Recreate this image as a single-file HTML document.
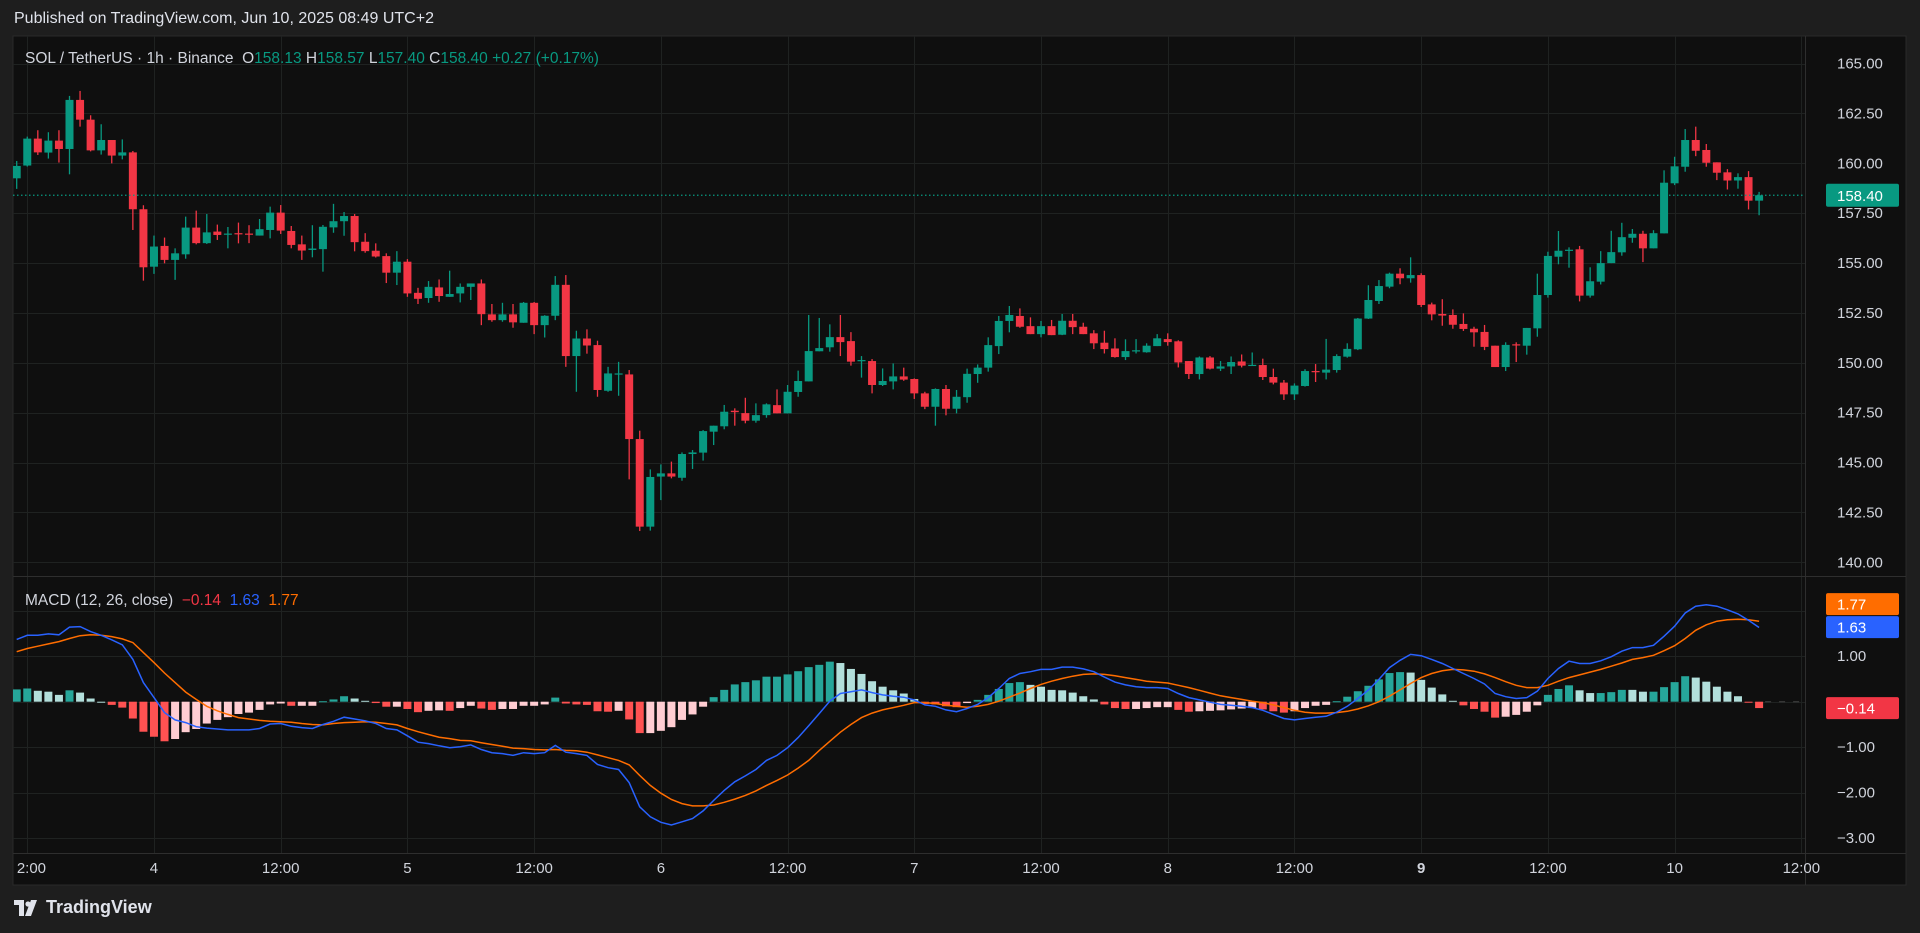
<!DOCTYPE html>
<html><head><meta charset="utf-8"><title>SOL/USDT 1h chart</title>
<style>
html,body{margin:0;padding:0;background:#1e1e1e;width:1920px;height:933px;overflow:hidden;font-family:"Liberation Sans",sans-serif;}
#hdr{position:absolute;left:14px;top:10px;color:#e0e3eb;font-size:16px;}
#ftr{position:absolute;left:14px;top:897px;color:#e0e3eb;font-size:18px;font-weight:bold;display:flex;align-items:center;gap:6px;}
svg{position:absolute;left:0;top:0;}
</style></head><body>
<div id="hdr">Published on TradingView.com, Jun 10, 2025 08:49 UTC+2</div>
<div id="ftr"><svg width="26" height="16" viewBox="0 0 26 16" style="position:static"><path d="M0 0h10v16H5V5H0z M11 16l6-16h6l-6 16z" fill="#e0e3eb"/><circle cx="14" cy="4" r="2.6" fill="#e0e3eb"/></svg><span>TradingView</span></div>
<svg id="chart" width="1920" height="933"></svg>
<script>
const opens=[159.25,159.89,161.24,160.54,161.14,160.72,163.18,162.19,160.65,161.17,160.39,160.55,157.70,154.82,155.86,155.16,155.44,156.78,156.00,156.58,156.45,156.50,156.48,156.38,156.66,157.53,156.61,155.94,155.66,155.70,156.79,157.10,157.36,156.07,155.62,155.35,154.52,155.07,153.51,153.25,153.78,153.31,153.48,153.81,153.98,152.43,152.14,152.43,152.01,153.01,151.89,152.36,153.91,150.34,151.22,150.89,148.60,149.45,149.42,146.18,141.79,144.30,144.46,144.24,145.43,145.50,146.55,146.82,147.60,147.48,147.10,147.38,147.88,147.47,148.54,149.07,150.58,150.78,151.29,151.09,150.12,150.09,148.89,149.07,149.32,149.19,148.47,147.80,148.69,147.70,148.28,149.44,149.76,150.84,152.10,152.35,151.84,151.44,151.84,151.41,152.11,151.81,151.48,151.01,150.72,150.29,150.60,150.53,150.84,151.19,151.08,150.09,149.44,150.27,149.71,149.82,150.07,149.87,149.89,149.29,149.01,148.42,148.84,149.59,149.51,149.64,150.31,150.68,152.22,153.10,153.82,154.47,154.24,154.40,152.93,152.45,152.40,151.95,151.71,151.55,150.86,149.79,150.93,150.86,151.73,153.40,155.32,155.62,155.69,153.37,154.07,155.00,155.54,156.27,156.47,155.74,156.49,159.00,159.83,161.17,160.67,160.05,159.55,159.14,159.31,158.13];
const highs=[160.12,161.34,161.66,161.56,161.66,163.38,163.63,162.41,161.96,161.17,161.20,160.62,157.90,156.38,156.28,155.74,157.33,157.63,157.46,156.93,156.81,157.03,156.90,157.21,157.83,157.91,156.86,156.38,156.90,156.91,157.97,157.56,157.46,156.50,155.99,155.49,155.60,155.20,153.76,154.10,154.18,154.62,153.98,153.98,154.18,152.95,153.01,152.95,153.05,153.05,152.39,154.35,154.40,151.61,151.68,151.11,149.80,150.05,149.64,146.60,144.66,144.91,145.05,145.51,145.63,146.63,146.85,147.89,147.72,148.25,147.97,147.97,148.67,148.89,149.61,152.40,152.25,151.93,152.40,151.54,150.34,150.19,149.72,149.97,149.76,149.22,148.55,148.72,148.89,148.64,149.71,149.92,151.28,152.35,152.85,152.73,152.28,152.10,152.15,152.45,152.45,152.01,151.64,151.61,151.23,151.18,151.19,150.98,151.44,151.48,151.13,150.09,150.32,150.34,150.09,150.32,150.42,150.52,150.21,149.71,149.14,148.97,149.68,149.94,151.20,150.43,150.98,152.25,153.89,154.15,154.52,154.74,155.29,154.49,153.02,153.19,152.68,152.48,151.81,151.90,150.86,151.03,151.03,151.75,154.47,155.57,156.61,155.79,155.86,154.79,155.60,156.62,157.02,156.71,156.62,156.65,159.65,160.33,161.72,161.84,160.97,160.05,159.71,159.50,159.61,158.57];
const lows=[158.72,159.84,160.42,160.24,160.04,159.45,161.84,160.60,160.44,160.00,160.20,156.66,154.12,154.46,154.99,154.16,155.22,155.94,155.96,156.16,155.74,155.99,156.00,156.38,156.24,156.46,155.74,155.16,155.29,154.57,156.52,156.37,155.59,155.52,155.28,154.00,153.90,153.31,152.95,153.01,153.06,153.31,153.03,153.15,151.89,152.06,152.06,151.76,152.01,151.44,151.27,152.14,149.80,148.55,150.46,148.30,148.55,148.35,144.16,141.57,141.59,143.12,144.21,144.09,144.68,145.10,145.88,146.67,146.85,146.97,147.00,147.25,147.47,147.47,148.30,149.07,150.58,150.56,150.34,149.86,149.26,148.47,148.84,148.67,149.10,148.19,147.68,146.85,147.37,147.47,148.00,149.00,149.56,150.44,151.53,151.76,151.44,151.28,151.39,151.39,151.44,151.44,150.69,150.47,150.26,150.14,150.47,150.51,150.84,150.86,149.77,149.19,149.17,149.67,149.59,149.44,149.77,149.87,149.14,148.92,148.14,148.14,148.81,149.04,149.17,149.51,150.26,150.64,152.20,152.95,153.74,153.94,154.02,152.80,152.13,151.86,151.71,151.60,150.81,150.64,149.79,149.59,150.04,150.41,151.31,153.27,154.94,154.77,153.08,153.27,153.93,155.00,155.37,156.02,155.05,155.74,156.49,158.91,159.58,160.36,159.83,159.16,158.69,158.73,157.69,157.40];
const closes=[159.87,161.24,160.55,161.14,160.72,163.18,162.19,160.65,161.17,160.39,160.55,157.70,154.79,155.83,155.16,155.49,156.78,156.00,156.54,156.41,156.48,156.45,156.44,156.70,157.53,156.63,155.91,155.63,155.73,156.82,157.10,157.36,156.05,155.60,155.33,154.52,155.07,153.48,153.21,153.81,153.35,153.45,153.81,153.98,152.44,152.14,152.43,152.03,153.01,151.89,152.36,153.91,150.34,151.22,150.87,148.64,149.47,149.47,146.18,141.79,144.28,144.46,144.30,145.43,145.51,146.58,146.85,147.55,147.53,147.10,147.38,147.92,147.47,148.55,149.09,150.59,150.74,151.29,151.04,150.06,150.14,148.89,149.09,149.32,149.16,148.47,147.80,148.69,147.70,148.30,149.45,149.76,150.89,152.10,152.40,151.81,151.44,151.84,151.39,152.11,151.79,151.44,150.98,150.69,150.29,150.59,150.63,150.86,151.23,151.04,150.02,149.44,150.27,149.71,149.82,150.04,149.86,149.90,149.29,149.01,148.42,148.86,149.59,149.53,149.66,150.34,150.70,152.22,153.15,153.85,154.47,154.24,154.40,152.90,152.43,152.37,151.91,151.70,151.53,150.80,149.79,150.90,150.88,151.75,153.40,155.36,155.62,155.67,153.37,154.09,155.00,155.55,156.30,156.47,155.74,156.50,159.03,159.85,161.17,160.63,160.03,159.53,159.14,159.31,158.13,158.40];
const macdLine=[1.37,1.46,1.46,1.49,1.47,1.64,1.65,1.54,1.46,1.36,1.25,0.93,0.42,0.09,-0.24,-0.40,-0.46,-0.55,-0.58,-0.60,-0.62,-0.62,-0.62,-0.59,-0.49,-0.48,-0.54,-0.57,-0.59,-0.50,-0.43,-0.34,-0.38,-0.42,-0.48,-0.59,-0.62,-0.75,-0.89,-0.92,-0.97,-1.01,-0.99,-0.95,-1.05,-1.12,-1.14,-1.18,-1.12,-1.14,-1.12,-0.96,-1.11,-1.14,-1.18,-1.38,-1.45,-1.49,-1.78,-2.31,-2.53,-2.65,-2.71,-2.64,-2.57,-2.40,-2.17,-1.95,-1.76,-1.63,-1.49,-1.29,-1.18,-1.01,-0.79,-0.53,-0.26,0.01,0.18,0.22,0.26,0.20,0.15,0.12,0.10,0.04,-0.07,-0.10,-0.18,-0.22,-0.15,-0.06,0.09,0.29,0.51,0.62,0.66,0.71,0.71,0.76,0.76,0.72,0.66,0.54,0.43,0.37,0.33,0.31,0.31,0.29,0.18,0.09,0.04,-0.01,-0.06,-0.08,-0.10,-0.13,-0.19,-0.28,-0.37,-0.40,-0.37,-0.34,-0.32,-0.23,-0.10,0.07,0.26,0.49,0.75,0.91,1.04,1.01,0.93,0.84,0.73,0.62,0.51,0.39,0.18,0.11,0.07,0.09,0.23,0.51,0.73,0.89,0.84,0.84,0.90,0.99,1.11,1.19,1.19,1.24,1.44,1.66,1.95,2.10,2.13,2.10,2.02,1.93,1.79,1.63];
const signalLine=[1.10,1.17,1.22,1.27,1.32,1.39,1.45,1.47,1.46,1.43,1.38,1.30,1.08,0.86,0.63,0.42,0.21,0.05,-0.10,-0.20,-0.28,-0.35,-0.38,-0.41,-0.43,-0.44,-0.45,-0.48,-0.50,-0.51,-0.48,-0.46,-0.45,-0.44,-0.45,-0.48,-0.51,-0.59,-0.66,-0.72,-0.78,-0.81,-0.85,-0.86,-0.90,-0.94,-0.98,-1.02,-1.03,-1.05,-1.06,-1.05,-1.07,-1.08,-1.11,-1.17,-1.23,-1.29,-1.39,-1.62,-1.84,-2.01,-2.15,-2.24,-2.29,-2.29,-2.27,-2.21,-2.14,-2.06,-1.96,-1.84,-1.73,-1.61,-1.46,-1.29,-1.07,-0.87,-0.67,-0.50,-0.35,-0.25,-0.18,-0.13,-0.08,-0.02,-0.02,-0.04,-0.08,-0.10,-0.12,-0.10,-0.06,0.01,0.10,0.19,0.29,0.38,0.45,0.51,0.56,0.60,0.61,0.60,0.57,0.53,0.49,0.45,0.43,0.41,0.36,0.31,0.25,0.19,0.13,0.09,0.05,0.01,-0.02,-0.07,-0.13,-0.19,-0.23,-0.25,-0.25,-0.24,-0.21,-0.16,-0.09,0.00,0.12,0.26,0.40,0.53,0.62,0.68,0.71,0.70,0.67,0.61,0.53,0.44,0.36,0.31,0.31,0.36,0.45,0.53,0.59,0.65,0.71,0.78,0.85,0.93,0.97,1.02,1.12,1.23,1.39,1.57,1.69,1.77,1.80,1.81,1.80,1.77];
const priceTicks=[140,142.5,145,147.5,150,152.5,155,157.5,160,162.5,165];
const macdTicks=[1,-1,-2,-3];
const macdGrid=[2,1,0,-1,-2,-3];
const timeTickIdx=[1,13,25,37,49,61,73,85,97,109,121,133,145,157,169];
const timeTickLabels=["12:00","4","12:00","5","12:00","6","12:00","7","12:00","8","12:00","9","12:00","10","12:00"];
const lastPrice=158.40;

const NS="http://www.w3.org/2000/svg";
const svg=document.getElementById('chart');
function mk(tag,attrs,parent){const e=document.createElementNS(NS,tag);for(const k in attrs)e.setAttribute(k,attrs[k]);(parent||svg).appendChild(e);return e;}
const xOf=i=>16.7+10.56*i;
const yP=p=>63.6+(165-p)*19.95;
const yM=v=>701.7-v*45.5;
const L=13,R=1805,T=36,PB=576,MB=853,RA=1906,B=885;
const GREEN="#089981",RED="#f23645";

const bg=mk('rect',{x:L,y:T,width:RA-L,height:B-T,fill:'#0f0f0f',stroke:'#2a2a2a'});


const defs=mk('defs',{});
const cp=mk('clipPath',{id:'cpP'},defs);mk('rect',{x:L,y:T,width:R-L,height:PB-T},cp);
const cm=mk('clipPath',{id:'cpM'},defs);mk('rect',{x:L,y:PB,width:R-L,height:MB-PB},cm);
const ct=mk('clipPath',{id:'cpT'},defs);mk('rect',{x:17,y:MB,width:R-17+25,height:B-MB},ct);

const grid=mk('g',{stroke:'#1f2221','stroke-width':1});


timeTickIdx.forEach(i=>{const x=Math.round(xOf(i))+0.5;if(x<R)mk('line',{x1:x,x2:x,y1:T,y2:MB},grid);});
priceTicks.forEach(p=>{const y=Math.round(yP(p))+0.5;mk('line',{x1:L,x2:R,y1:y,y2:y},grid);});
macdGrid.forEach(v=>{const y=Math.round(yM(v))+0.5;mk('line',{x1:L,x2:R,y1:y,y2:y},grid);});
mk('line',{x1:L,x2:RA,y1:PB+0.5,y2:PB+0.5,stroke:'#2e2e2e'});
mk('line',{x1:L,x2:RA,y1:MB+0.5,y2:MB+0.5,stroke:'#2e2e2e'});
mk('line',{x1:R+0.5,x2:R+0.5,y1:T,y2:B,stroke:'#2e2e2e'});

const cg=mk('g',{'clip-path':'url(#cpP)'});


for(let i=0;i<closes.length;i++){
  const col=closes[i]>=opens[i]?GREEN:RED;const x=xOf(i);
  const g=mk('g',{},cg);
  
  
  mk('line',{x1:x,x2:x,y1:yP(highs[i]),y2:yP(lows[i]),stroke:col,'stroke-width':1.3},g);
  const y1=yP(Math.max(opens[i],closes[i])),y2=yP(Math.min(opens[i],closes[i]));
  mk('rect',{x:x-4,y:y1,width:8,height:Math.max(1.2,y2-y1),fill:col},g);
}
const lp=mk('line',{x1:L,x2:R,y1:yP(lastPrice),y2:yP(lastPrice),stroke:GREEN,'stroke-width':1.2,'stroke-dasharray':'1.5 2.5'});



const pa=mk('g',{fill:'#d1d4dc','font-size':'15','font-family':'Liberation Sans, sans-serif'});


priceTicks.forEach(p=>{const t=mk('text',{x:1837,y:yP(p)+5},pa);t.textContent=p.toFixed(2);});
const plb=mk('g',{});


mk('rect',{x:1826,y:yP(lastPrice)-11.5,width:73,height:23,rx:2,fill:GREEN},plb);
const plt=mk('text',{x:1837,y:yP(lastPrice)+5.5,fill:'#fff','font-size':'15'},plb);plt.textContent=lastPrice.toFixed(2);

const hg=mk('g',{'clip-path':'url(#cpM)'});


let prevH=0;
for(let i=0;i<macdLine.length;i++){
  const h=macdLine[i]-signalLine[i];
  const col=h>=0?(h>=prevH?'#26a69a':'#b2dfdb'):(h<prevH?'#ff5252':'#ffcdd2');
  prevH=h;const y0=yM(0),y1=yM(h);
  const r=mk('rect',{x:xOf(i)-4,y:Math.min(y0,y1),width:8,height:Math.max(1,Math.abs(y1-y0)),fill:col},hg);
  
  
}
const zl=mk('line',{x1:xOf(macdLine.length-1)+6,x2:R,y1:yM(0),y2:yM(0),stroke:'#444','stroke-dasharray':'6 8'});


function poly(arr,col,name){const d=arr.map((v,i)=>(i?'L':'M')+xOf(i).toFixed(1)+' '+yM(v).toFixed(1)).join(' ');
  const p=mk('path',{d:d,fill:'none',stroke:col,'stroke-width':1.5,'clip-path':'url(#cpM)'});
  
  }
poly(signalLine,'#ff6d00','signal-line');
poly(macdLine,'#2962ff','macd-line');

const ma=mk('g',{fill:'#d1d4dc','font-size':'15'});


macdTicks.forEach(v=>{const t=mk('text',{x:1837,y:yM(v)+5},ma);t.textContent=(v<0?'−':'')+Math.abs(v).toFixed(2);});
const lastM=macdLine[macdLine.length-1],lastS=signalLine[signalLine.length-1],lastH=lastM-lastS;
function axLabel(y,col,txt,name){const g=mk('g',{});
  
  
  mk('rect',{x:1826,y:y-11,width:73,height:22,rx:2,fill:col},g);
  const t=mk('text',{x:1837,y:y+5.5,fill:'#fff','font-size':'15'},g);t.textContent=txt;}
axLabel(yM(lastS)-17,'#ff6d00',lastS.toFixed(2),'signal-value-label');
axLabel(yM(lastS)+6,'#2962ff',lastM.toFixed(2),'macd-value-label');
axLabel(yM(lastH),'#f23645','−'+Math.abs(lastH).toFixed(2),'histogram-value-label');

const ta=mk('g',{fill:'#d1d4dc','font-size':'15','text-anchor':'middle','clip-path':'url(#cpT)'});


timeTickIdx.forEach((i,k)=>{const t=mk('text',{x:xOf(i),y:873},ta);t.textContent=timeTickLabels[k];if(timeTickLabels[k]==='9')t.setAttribute('font-weight','bold');});

const lg=mk('text',{x:25,y:63,'font-size':'15.5',fill:'#d1d4dc',style:'white-space:pre'});


[["SOL / TetherUS · 1h · Binance  ",'#d1d4dc'],["O",'#d1d4dc'],["158.13 ",GREEN],["H",'#d1d4dc'],["158.57 ",GREEN],["L",'#d1d4dc'],["157.40 ",GREEN],["C",'#d1d4dc'],["158.40 ",GREEN],["+0.27 (+0.17%)",GREEN]].forEach(s=>{const t=mk('tspan',{fill:s[1]},lg);t.textContent=s[0];});
const ml=mk('text',{x:25,y:605,'font-size':'15.5',fill:'#d1d4dc',style:'white-space:pre'});


[["MACD (12, 26, close)  ",'#d1d4dc'],["−"+Math.abs(lastH).toFixed(2)+"  ",'#f23645'],[lastM.toFixed(2)+"  ",'#2962ff'],[lastS.toFixed(2),'#ff6d00']].forEach(s=>{const t=mk('tspan',{fill:s[1]},ml);t.textContent=s[0];});
</script>
</body></html>
